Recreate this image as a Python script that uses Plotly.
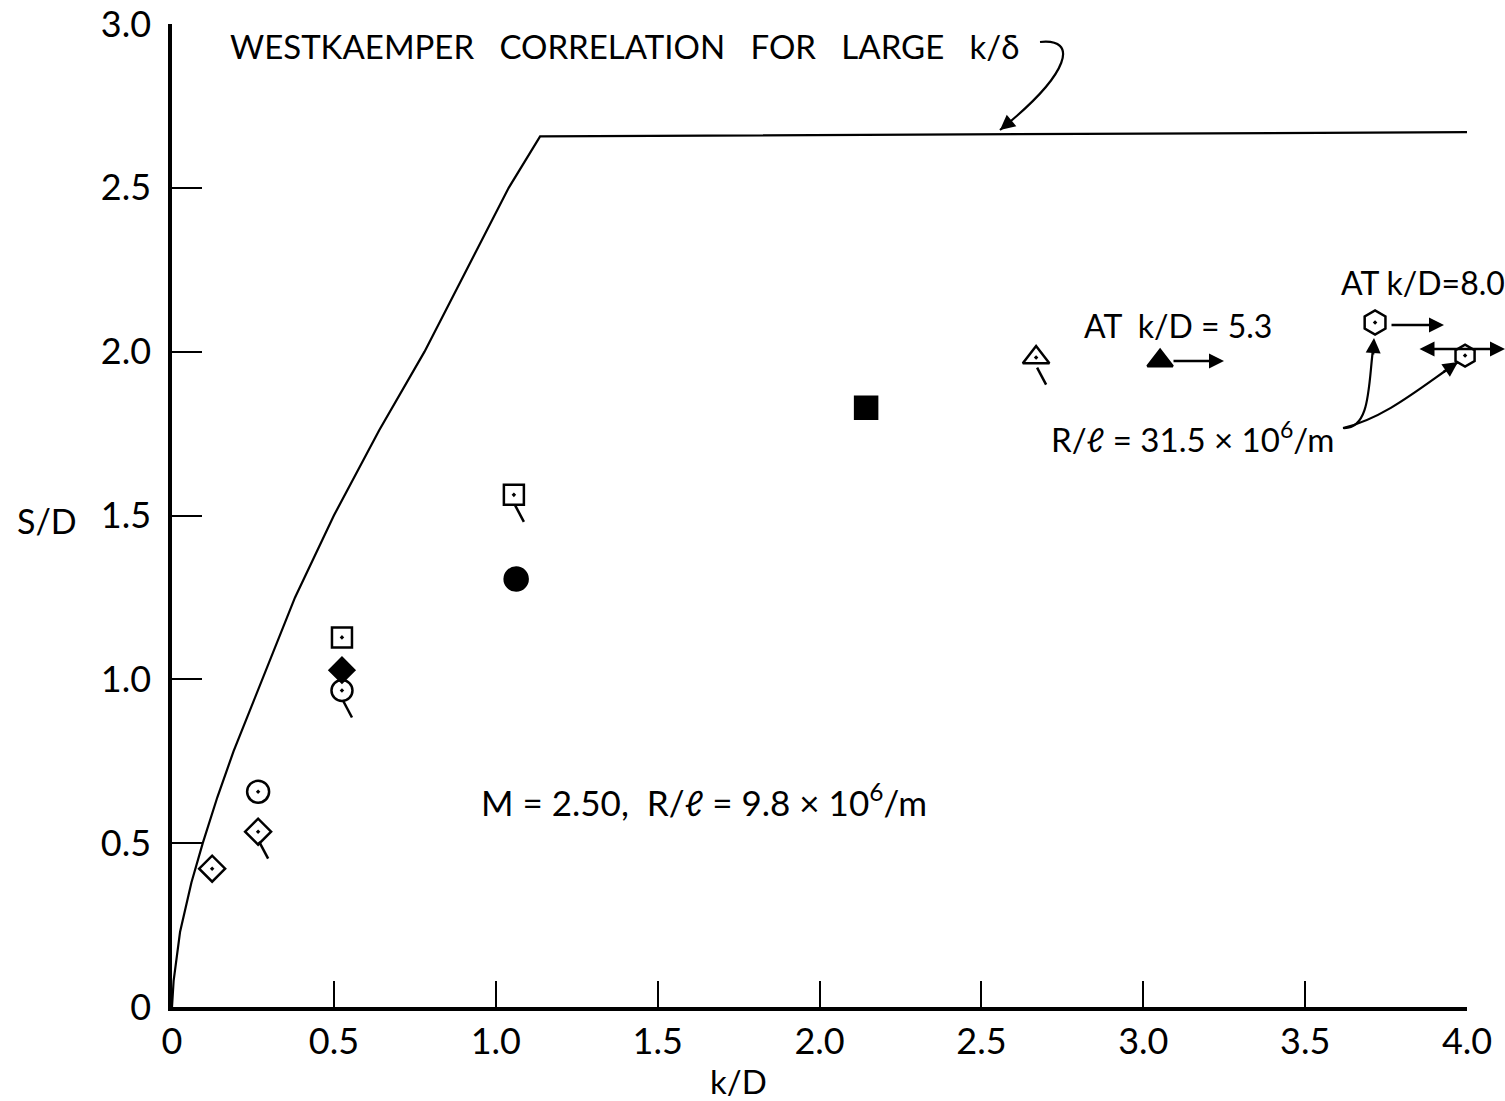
import plotly.graph_objects as go

# ---- data ----
# Westkaemper correlation curve (k/D, S/D)
curve_k = [0.0, 0.005, 0.025, 0.06, 0.095, 0.14, 0.19, 0.28, 0.38, 0.50, 0.64, 0.78, 0.91, 1.04, 1.137, 4.0]
curve_s = [0.0, 0.08, 0.23, 0.38, 0.50, 0.64, 0.78, 1.00, 1.25, 1.50, 1.76, 2.00, 2.25, 2.50, 2.657, 2.67]

# measured points
pt_k = [0.124, 0.266, 0.266, 0.525, 0.525, 0.525, 1.056, 1.063, 2.144, 2.669, 3.052, 3.716, 3.994]
pt_s = [0.422, 0.657, 0.535, 1.128, 1.028, 0.966, 1.563, 1.306, 1.829, 1.982, 1.972, 2.089, 1.988]
pt_flag = [False, False, True, False, False, True, True, False, False, True, False, False, False]

x_ticks = [0, 0.5, 1.0, 1.5, 2.0, 2.5, 3.0, 3.5, 4.0]
x_labels = ["0", "0.5", "1.0", "1.5", "2.0", "2.5", "3.0", "3.5", "4.0"]
y_ticks = [0, 0.5, 1.0, 1.5, 2.0, 2.5, 3.0]
y_labels = ["0", "0.5", "1.0", "1.5", "2.0", "2.5", "3.0"]

# styles (kept separate from data)
pt_symbol = ["diamond-open-dot", "circle-open-dot", "diamond-open-dot", "square-open-dot",
             "diamond", "circle-open-dot", "square-open-dot", "circle", "square",
             "triangle-up-open-dot", "triangle-up", "hexagon-open-dot", "hexagon-open-dot"]
pt_size = [20, 22, 20, 20, 19, 21, 20, 23, 22, 23, 22, 24, 22]

FONT = "Lato"
W, H = 1505, 1101
L, R, T, B = 172, 38, 24, 94
XR, YR = (0, 4.0), (0, 3.0)
ppx = (W - L - R) / (XR[1] - XR[0])
ppy = (H - T - B) / (YR[1] - YR[0])


def px2d(px, py):
    return (px - L) / ppx + XR[0], (H - B - py) / ppy + YR[0]


def px2paper(px, py):
    return (px - L) / (W - L - R), (H - B - py) / (H - T - B)


fig = go.Figure()

fig.add_trace(go.Scatter(x=curve_k, y=curve_s, mode="lines",
                         line=dict(color="black", width=2.2), hoverinfo="skip",
                         showlegend=False))

# flags
fx, fy = [], []
for k, s, f in zip(pt_k, pt_s, pt_flag):
    if f:
        fx += [k + 1 / ppx, k + 10 / ppx, None]
        fy += [s - 10 / ppy, s - 27 / ppy, None]
fig.add_trace(go.Scatter(x=fx, y=fy, mode="lines", line=dict(color="black", width=2.5),
                         showlegend=False, hoverinfo="skip"))

fig.add_trace(go.Scatter(x=pt_k, y=pt_s, mode="markers", cliponaxis=False,
                         marker=dict(symbol=pt_symbol, size=pt_size, color="black", opacity=1,
                                     line=dict(color="black", width=2.5)),
                         showlegend=False))

ann = []


def text(px, py, s, size=30, xanchor="left", paper=False):
    if paper:
        x, y = px2paper(px, py)
        ref = "paper"
    else:
        x, y = px2d(px, py)
        ref = None
    ann.append(dict(x=x, y=y, xref=ref or "x", yref=ref or "y", text=s, showarrow=False,
                    xanchor=xanchor, yanchor="middle",
                    font=dict(family=FONT, size=size, color="black")))


text(228, 46, "WESTKAEMPER   CORRELATION   FOR   LARGE   k/δ", 33)
text(479, 800, "M = 2.50,  R/ℓ = 9.8 × 10<sup>6</sup>/m", 35)
text(1082, 325, "AT  k/D = 5.3", 32)
text(1339, 282, "AT k/D=8.0", 32)
text(1049, 437, "R/ℓ = 31.5 × 10<sup>6</sup>/m", 33)
text(47, 520, "S/D", 34, "center", paper=True)
text(738, 1081, "k/D", 33, "center", paper=True)


def harrow(px0, px1, py, both=False):
    x0, y = px2d(px0, py)
    x1, _ = px2d(px1, py)
    ann.append(dict(x=x1, y=y, ax=x0, ay=y, xref="x", yref="y", axref="x", ayref="y",
                    text="", showarrow=True, arrowhead=2, arrowsize=1.2, arrowwidth=2.5,
                    arrowcolor="black", arrowside="end+start" if both else "end",
                    standoff=0, startstandoff=0))


harrow(1172, 1224, 361)
harrow(1390, 1444, 325)
harrow(1418, 1505, 349, both=True)


def head(px, py, dpx, dpy):
    x, y = px2d(px, py)
    ann.append(dict(x=x, y=y, xref="x", yref="y", ax=dpx, ay=dpy, text="",
                    showarrow=True, arrowhead=2, arrowsize=1.2, arrowwidth=2.5,
                    arrowcolor="black", standoff=0))


shapes = []


def curve(pts):
    d = []
    for px, py in pts:
        x, y = px2d(px, py)
        d.append(f"{x:.4f},{y:.4f}")
    path = f"M {d[0]} C {d[1]} {d[2]} {d[3]}"
    shapes.append(dict(type="path", path=path, xref="x", yref="y",
                       line=dict(color="black", width=2.2)))


curve([(1040, 42), (1078, 38), (1072, 72), (1000, 130)])
head(1000, 130, 12, -10)
curve([(1343, 428), (1372, 430), (1368, 380), (1374, 342)])
head(1374, 338, -1, 18)
curve([(1343, 428), (1385, 418), (1420, 388), (1458, 362)])
head(1458, 362, -16, 11)

fig.update_layout(
    width=W, height=H, margin=dict(l=L, r=R, t=T, b=B, pad=0, autoexpand=False),
    plot_bgcolor="white", paper_bgcolor="white",
    annotations=ann, shapes=shapes,
    font=dict(family=FONT, color="black"),
    xaxis=dict(range=list(XR), showgrid=False, zeroline=False, showline=True,
               linecolor="black", linewidth=3.5, ticks="inside", ticklen=26, tickwidth=2,
               tickcolor="black", tickvals=x_ticks, ticktext=x_labels, automargin=False,
               ticklabeloverflow="allow",
               tickfont=dict(family=FONT, size=36, color="black")),
    yaxis=dict(range=list(YR), showgrid=False, zeroline=False, showline=True,
               linecolor="black", linewidth=3.5, ticks="inside", ticklen=30, tickwidth=2,
               tickcolor="black", tickvals=y_ticks, ticktext=y_labels, automargin=False,
               ticklabeloverflow="allow",
               tickfont=dict(family=FONT, size=36, color="black"), ticklabelstandoff=10),
)

fig.write_html("out.html")
